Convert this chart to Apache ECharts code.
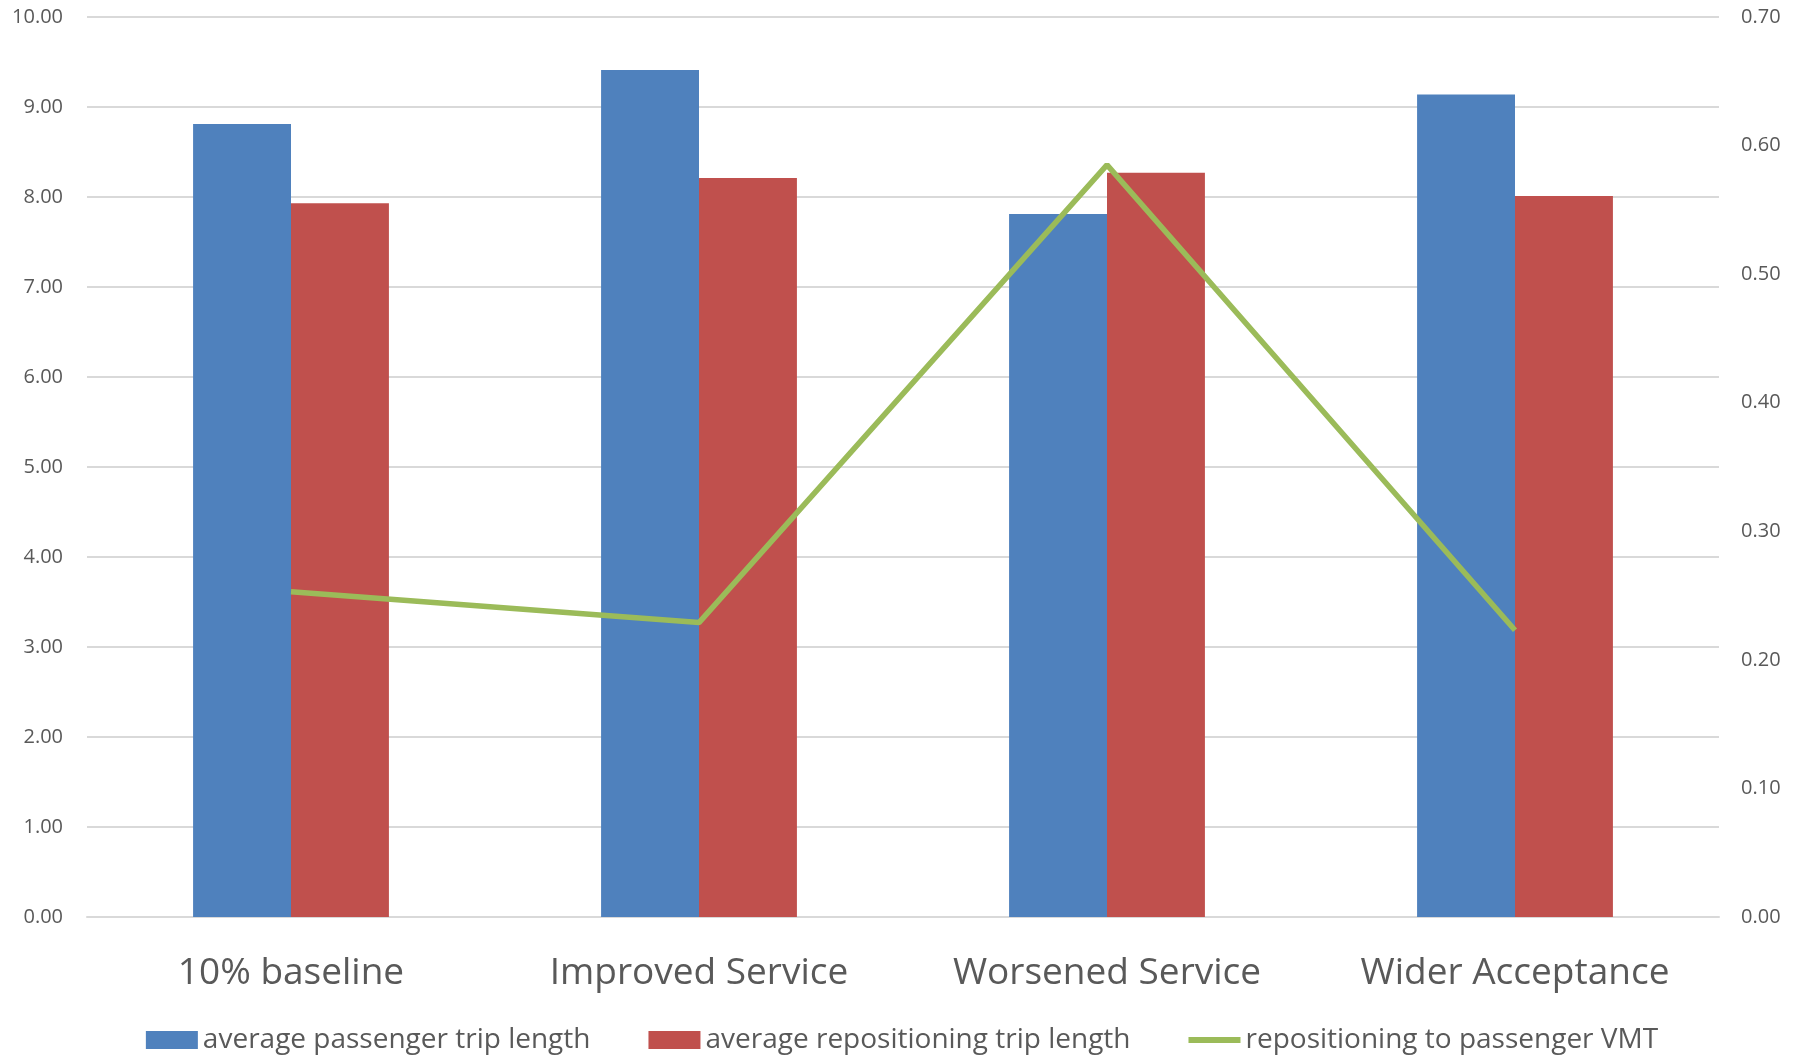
<!DOCTYPE html>
<html>
<head>
<meta charset="utf-8">
<script src="https://cdn.jsdelivr.net/npm/echarts@6/dist/echarts.min.js"></script>
<style>
  html, body { margin: 0; padding: 0; background: #fff; }
  #chart { width: 1804px; height: 1057px; }
</style>
</head>
<body>
<div id="chart"></div>
<script>
// scenarios along the x axis
const categories = ['10% baseline', 'Improved Service', 'Worsened Service', 'Wider Acceptance']
// bar series (left axis)
const passengerTripLength = [8.81, 9.41, 7.81, 9.14]
const repositioningTripLength = [7.93, 8.21, 8.27, 8.01]
// line series (right axis)
const repositioningToPassengerVMT = [0.253, 0.229, 0.585, 0.223]

const labelColor = '#595959'
const gridColor = '#D9D9D9'
const font = '"Open Sans", sans-serif'

const chart = echarts.init(document.getElementById('chart'))
chart.setOption({
  animation: false,
  grid: { left: 87, right: 85, top: 17, bottom: 140, containLabel: false },
  legend: {
    top: 1021,
    left: 'center',
    itemWidth: 52,
    itemHeight: 18,
    itemGap: 58,
    textStyle: { fontFamily: font, fontSize: 28, color: labelColor },
    data: [
      { name: 'average passenger trip length', icon: 'rect' },
      { name: 'average repositioning trip length', icon: 'rect' },
      // thin bar icon for the line series
      { name: 'repositioning to passenger VMT', icon: 'path://M0,0 L52,0 L52,6 L0,6 Z' }
    ]
  },
  xAxis: {
    type: 'category',
    data: categories,
    axisTick: { show: false },
    axisLine: { lineStyle: { color: gridColor, width: 2 } },
    axisLabel: { fontFamily: font, fontSize: 37, color: labelColor, margin: 38 }
  },
  yAxis: [
    {
      type: 'value', min: 0, max: 10, interval: 1,
      axisLine: { show: false }, axisTick: { show: false },
      splitLine: { lineStyle: { color: gridColor, width: 2 } },
      axisLabel: { fontFamily: font, fontSize: 20, color: labelColor, margin: 24,
        formatter: v => v.toFixed(2) }
    },
    {
      type: 'value', min: 0, max: 0.7, interval: 0.1,
      axisLine: { show: false }, axisTick: { show: false },
      splitLine: { show: false },
      axisLabel: { fontFamily: font, fontSize: 20, color: labelColor, margin: 22,
        formatter: v => v.toFixed(2) }
    }
  ],
  series: [
    {
      name: 'average passenger trip length',
      type: 'bar',
      data: passengerTripLength,
      barWidth: '24%',
      barGap: '0%',
      itemStyle: { color: '#4F81BD' }
    },
    {
      name: 'average repositioning trip length',
      type: 'bar',
      data: repositioningTripLength,
      barWidth: '24%',
      barGap: '0%',
      itemStyle: { color: '#C0504D' }
    },
    {
      name: 'repositioning to passenger VMT',
      type: 'line',
      yAxisIndex: 1,
      data: repositioningToPassengerVMT,
      symbol: 'none',
      lineStyle: { color: '#9BBB59', width: 5.5 },
      itemStyle: { color: '#9BBB59' }
    }
  ]
})
</script>
</body>
</html>
